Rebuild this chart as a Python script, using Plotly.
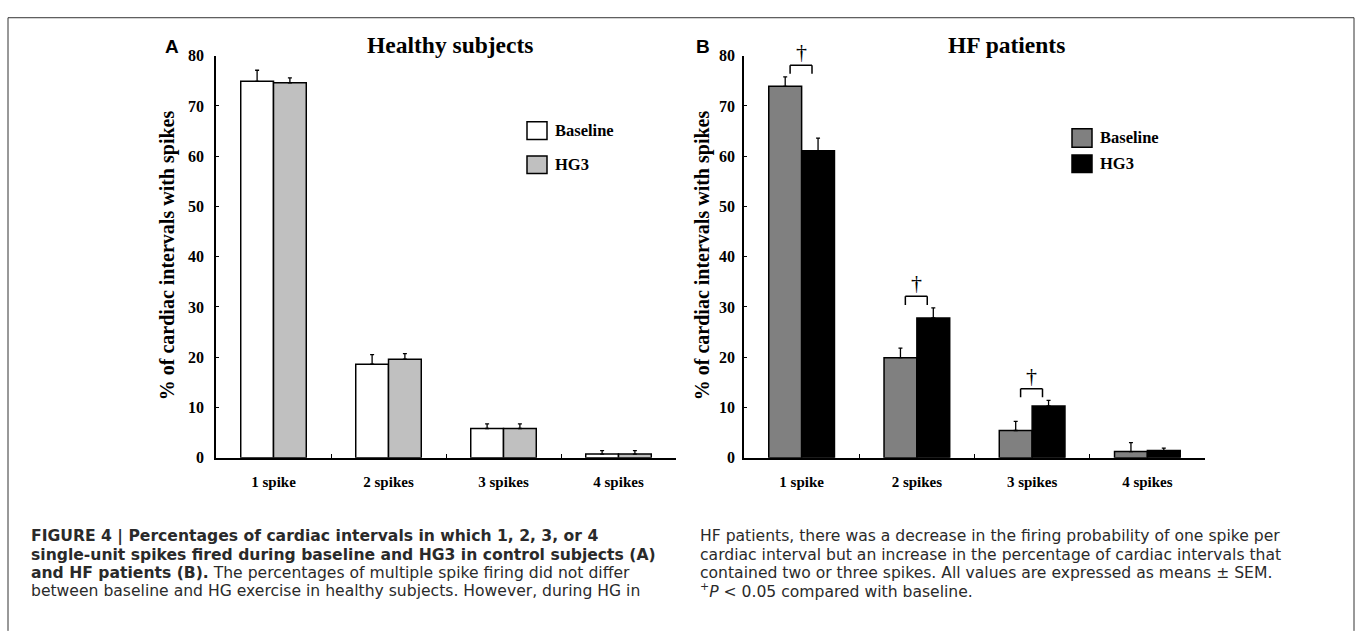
import plotly.graph_objects as go

W, H = 1356, 635

categories = ["1 spike", "2 spikes", "3 spikes", "4 spikes"]

# Panel A: healthy subjects
a_baseline = [74.9, 18.6, 5.8, 0.7]
a_baseline_sem = [2.2, 1.9, 0.9, 0.7]
a_hg3 = [74.6, 19.6, 5.8, 0.7]
a_hg3_sem = [1.0, 1.1, 0.9, 0.7]

# Panel B: HF patients
b_baseline = [73.9, 19.9, 5.4, 1.2]
b_baseline_sem = [1.9, 1.9, 1.8, 1.8]
b_hg3 = [61.1, 27.8, 10.3, 1.4]
b_hg3_sem = [2.5, 2.0, 1.1, 0.5]

significant_b = [0, 1, 2]  # category indices with P < 0.05

y_range = [0, 80]
y_ticks = [0, 10, 20, 30, 40, 50, 60, 70, 80]
series_names = ["Baseline", "HG3"]

SERIF = "Liberation Serif"
SANS = "Liberation Sans"
CAP = "DejaVu Sans"


def px(x):
    return x / W


def py(y):
    return 1 - y / H


fig = go.Figure()


def add_bar(name, vals, errs, color, xa, ya):
    fig.add_trace(go.Bar(
        x=categories, y=vals, name=name,
        marker=dict(color=color, line=dict(color="black", width=1.5)),
        error_y=dict(type="data", array=errs, arrayminus=[0] * len(errs),
                     symmetric=False, thickness=1.3, width=2, color="black"),
        xaxis=xa, yaxis=ya, showlegend=False,
    ))


add_bar(series_names[0], a_baseline, a_baseline_sem, "white", "x", "y")
add_bar(series_names[1], a_hg3, a_hg3_sem, "#c0c0c0", "x", "y")
add_bar(series_names[0], b_baseline, b_baseline_sem, "#808080", "x2", "y2")
add_bar(series_names[1], b_hg3, b_hg3_sem, "black", "x2", "y2")

shapes = []
annotations = []

# significance brackets and daggers in panel B
for i in significant_b:
    top_err = max(b_baseline[i] + b_baseline_sem[i], b_hg3[i] + b_hg3_sem[i])
    leg = top_err + 0.6
    top = leg + 1.7
    xl, xr = i - 0.1, i + 0.09
    for (x0, y0, x1, y1) in [(xl, leg, xl, top), (xl, top, xr, top), (xr, top, xr, leg)]:
        shapes.append(dict(type="line", xref="x2", yref="y2",
                           x0=x0, y0=y0, x1=x1, y1=y1,
                           line=dict(color="black", width=1.5)))
    dag_val = top + 2.7
    annotations.append(dict(
        text="†", x=i - 0.005, xref="x2",
        y=(dag_val - y_range[0]) / (y_range[1] - y_range[0]), yref="y2 domain",
        showarrow=False, xanchor="center", yanchor="middle",
        font=dict(family=SERIF, size=22, color="black")))

ydom = [py(462), py(49)]
axis_common = dict(
    showline=True, linecolor="black", linewidth=1.5, showgrid=False,
    zeroline=False,
)

fig.update_layout(
    width=W, height=H,
    margin=dict(l=0, r=0, t=0, b=0),
    paper_bgcolor="white", plot_bgcolor="white",
    barmode="group", bargap=0.43, bargroupgap=0,
    xaxis=dict(domain=[px(216), px(676)], range=[-0.5, 3.5],
               categoryorder="array", categoryarray=categories,
               ticks="inside", ticklen=4, tickcolor="black", tickwidth=1.2,
               tickson="boundaries", ticklabelstandoff=10,
               tickfont=dict(family=SERIF, size=15, color="black", weight="bold"),
               anchor="y", **axis_common),
    yaxis=dict(domain=ydom, range=y_range, tickvals=y_ticks,
               ticks="inside", ticklen=3, tickcolor="black", tickwidth=1.2,
               ticklabelstandoff=7,
               tickfont=dict(family=SERIF, size=16, color="black", weight="bold"),
               anchor="x", **axis_common),
    xaxis2=dict(domain=[px(744), px(1205)], range=[-0.5, 3.5],
                categoryorder="array", categoryarray=categories,
                ticks="inside", ticklen=4, tickcolor="black", tickwidth=1.2,
                tickson="boundaries", ticklabelstandoff=10,
                tickfont=dict(family=SERIF, size=15, color="black", weight="bold"),
                anchor="y2", **axis_common),
    yaxis2=dict(domain=ydom, range=y_range, tickvals=y_ticks,
                ticks="inside", ticklen=3, tickcolor="black", tickwidth=1.2,
                ticklabelstandoff=4,
                tickfont=dict(family=SERIF, size=16, color="black", weight="bold"),
                anchor="x2", **axis_common),
)

# frame
shapes.append(dict(type="line", xref="paper", yref="paper",
                   x0=px(8), x1=px(1354), y0=py(10), y1=py(10),
                   line=dict(color="#333", width=1)))
shapes.append(dict(type="line", xref="paper", yref="paper",
                   x0=px(8), x1=px(8), y0=py(10), y1=py(640),
                   line=dict(color="#333", width=1)))
shapes.append(dict(type="line", xref="paper", yref="paper",
                   x0=px(1354), x1=px(1354), y0=py(10), y1=py(640),
                   line=dict(color="#333", width=1)))

# titles and panel labels
for text, x in [("Healthy subjects", 450), ("HF patients", 1007)]:
    annotations.append(dict(text=f"<b>{text}</b>", x=px(x), y=py(38),
                            xref="paper", yref="paper", showarrow=False,
                            xanchor="center", yanchor="middle",
                            font=dict(family=SERIF, size=23.5, color="black")))
for text, x in [("A", 172), ("B", 703)]:
    annotations.append(dict(text=f"<b>{text}</b>", x=px(x), y=py(40),
                            xref="paper", yref="paper", showarrow=False,
                            xanchor="center", yanchor="middle",
                            font=dict(family=SANS, size=19, color="black")))

# y-axis titles
for x in [167, 702]:
    annotations.append(dict(text="<b>% of cardiac intervals with spikes</b>",
                            x=px(x), y=py(254), xref="paper", yref="paper",
                            showarrow=False, textangle=-90,
                            xanchor="center", yanchor="middle",
                            font=dict(family=SERIF, size=20, color="black")))

# legends (decorative keys)
legend_specs = [
    (527, [(117, 135), (152, 170)], ["white", "#c0c0c0"]),
    (1072, [(124, 143), (151, 169)], ["#808080", "black"]),
]
for x0, rows, colors in legend_specs:
    for (y0, y1), col, name in zip(rows, colors, series_names):
        shapes.append(dict(type="rect", xref="paper", yref="paper",
                           x0=px(x0), x1=px(x0 + 20), y0=py(y1), y1=py(y0),
                           fillcolor=col, line=dict(color="black", width=1.5)))
        annotations.append(dict(text=f"<b>{name}</b>", x=px(x0 + 26),
                                y=py((y0 + y1) / 2), xref="paper", yref="paper",
                                showarrow=False, xanchor="left", yanchor="middle",
                                font=dict(family=SERIF, size=16.5, color="black")))

# caption
cap_left = [
    "<b>FIGURE 4 | Percentages of cardiac intervals in which 1, 2, 3, or 4</b>",
    "<b>single-unit spikes fired during baseline and HG3 in control subjects (A)</b>",
    "<b>and HF patients (B).</b> The percentages of multiple spike firing did not differ",
    "between baseline and HG exercise in healthy subjects. However, during HG in",
]
cap_right = [
    "HF patients, there was a decrease in the firing probability of one spike per",
    "cardiac interval but an increase in the percentage of cardiac intervals that",
    "contained two or three spikes. All values are expressed as means ± SEM.",
    "<sup>+</sup><i>P</i> &lt; 0.05 compared with baseline.",
]
line_y = [543, 562, 580.5, 599]
for lines, x in [(cap_left, 29), (cap_right, 698)]:
    for text, y in zip(lines, line_y):
        annotations.append(dict(text=text, x=px(x), y=py(y), xref="paper", yref="paper",
                                showarrow=False, xanchor="left", yanchor="middle",
                                font=dict(family=CAP, size=15.6, color="#2a2a2a")))

fig.update_layout(shapes=shapes, annotations=annotations)
fig.write_html("out.html")
